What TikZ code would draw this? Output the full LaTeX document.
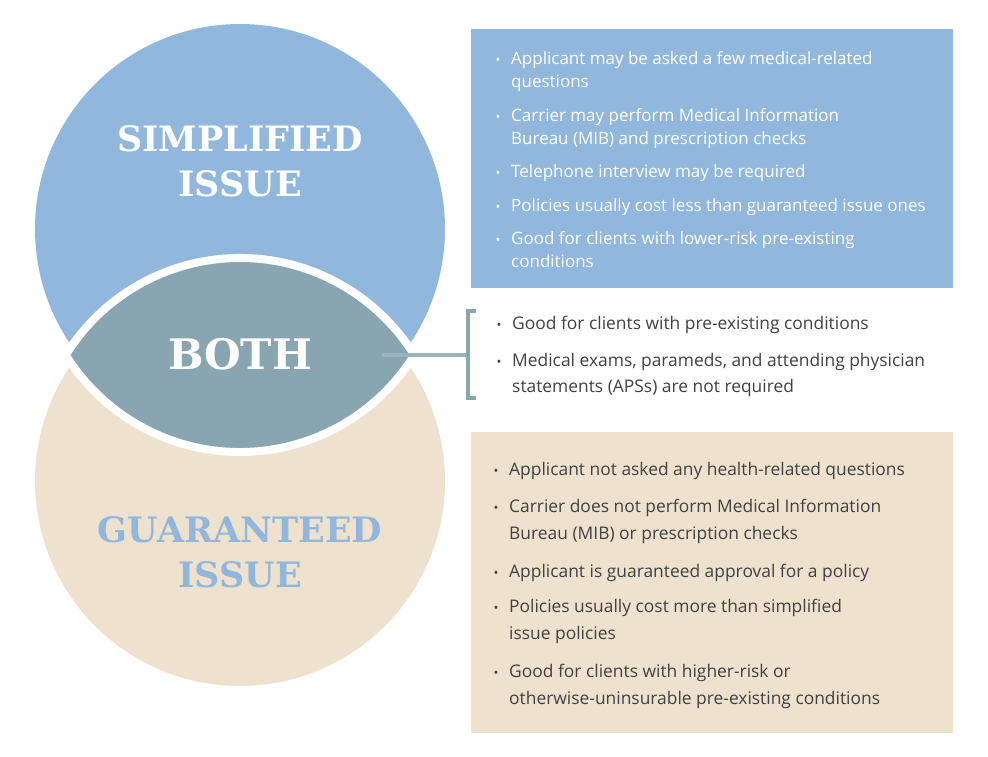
\documentclass[tikz,border=0pt]{standalone}
\usepackage{fontspec}
\setmainfont{Open Sans}
\newfontfamily\slabfont{DejaVu Serif}
\usetikzlibrary{positioning}
\definecolor{siblue}{HTML}{91B8DC}
\definecolor{bothgray}{HTML}{88A5B1}
\definecolor{gibeige}{HTML}{EEE2CF}
\definecolor{bodytext}{HTML}{414141}
\tikzset{
  title/.style={font=\slabfont\bfseries\fontsize{35}{35}\selectfont, anchor=base, inner sep=0pt},
  bodyline/.style={anchor=base west, align=left, inner sep=0pt},
  bulletmark/.style={anchor=base, inner sep=0pt, font=\fontsize{13}{13}\selectfont},
}

\begin{document}
\begin{tikzpicture}[x=1pt,y=-1pt]
\useasboundingbox (0,0) rectangle (988,756);
\def\cx{240}
\def\rad{205pt}
\coordinate (Ctop) at (\cx,229);
\coordinate (Cbot) at (\cx,481);
\coordinate (Ltop) at (\cx,247);
\coordinate (Lbot) at (\cx,463);

% circles and the overlap
\fill[siblue] (Ctop) circle[radius=\rad];
\fill[gibeige] (Cbot) circle[radius=\rad];
\begin{scope}
  \clip (Ltop) circle[radius=\rad];
  \fill[bothgray] (Lbot) circle[radius=\rad];
\end{scope}
\draw[white, line width=8pt] (Ltop) ++(-31.79:\rad)
  arc[start angle=-31.79, end angle=-148.21, radius=\rad]
  arc[start angle=148.21, end angle=31.79, radius=\rad] -- cycle;

\node[title, text=white] (simp1) at (\cx,151) {SIMPLIFIED};
\node[title, text=white] (simp2) at (\cx,196) {ISSUE};
\node[title, text=white, font=\slabfont\bfseries\fontsize{42}{42}\selectfont] (both) at (\cx,369) {BOTH};
\node[title, text=siblue] (guar1) at (\cx,542) {GUARANTEED};
\node[title, text=siblue] (guar2) at (\cx,587) {ISSUE};

% boxes
\fill[siblue] (471,29) rectangle (953,288);
\fill[gibeige] (471,432) rectangle (953,733);

% bracket
\coordinate (bothtip) at (382,355);
\coordinate (brmid) at (468,355);
\coordinate (brtop) at (468,311);
\coordinate (brbot) at (468,398);
\draw[bothgray!85!white, line width=4.5pt] (bothtip) -- (brmid);
\draw[bothgray, line width=4.5pt] ([xshift=8pt]brtop) -- (brtop) -- (brbot) -- ([xshift=8pt]brbot);

% \n = extra lines of an item (the base anchor sits on the last line)
\foreach \y/\n/\txt in {64/1/{Applicant may be asked a few medical-related\\questions},
    121/1/{Carrier may perform Medical Information\\Bureau (MIB) and prescription checks},
    177/0/{Telephone interview may be required},
    211/0/{Policies usually cost less than guaranteed issue ones},
    244/1/{Good for clients with lower-risk pre-existing\\conditions}} {
  \node[bulletmark, text=white] (sib\y) at (498,\y) {•};
  \node[bodyline, text=white, font=\fontsize{17}{23}\selectfont] (sit\y) at (511,{\y+\n*23}) {\txt};
}

\foreach \y/\n/\txt in {329/0/{Good for clients with pre-existing conditions},
    366/1/{Medical exams, parameds, and attending physician\\statements (APSs) are not required}} {
  \node[bulletmark, text=bodytext] (bob\y) at (499,\y) {•};
  \node[bodyline, text=bodytext, font=\fontsize{17.4}{26}\selectfont] (bot\y) at (512,{\y+\n*26}) {\txt};
}

\foreach \y/\n/\txt in {475/0/{Applicant not asked any health-related questions},
    512/1/{Carrier does not perform Medical Information\\Bureau (MIB) or prescription checks},
    577/0/{Applicant is guaranteed approval for a policy},
    612/1/{Policies usually cost more than simplified\\issue policies},
    677/1/{Good for clients with higher-risk or\\otherwise-uninsurable pre-existing conditions}} {
  \node[bulletmark, text=bodytext] (gib\y) at (496,\y) {•};
  \node[bodyline, text=bodytext, font=\fontsize{17.4}{27}\selectfont] (git\y) at (509,{\y+\n*27}) {\txt};
}

\end{tikzpicture}
\end{document}
